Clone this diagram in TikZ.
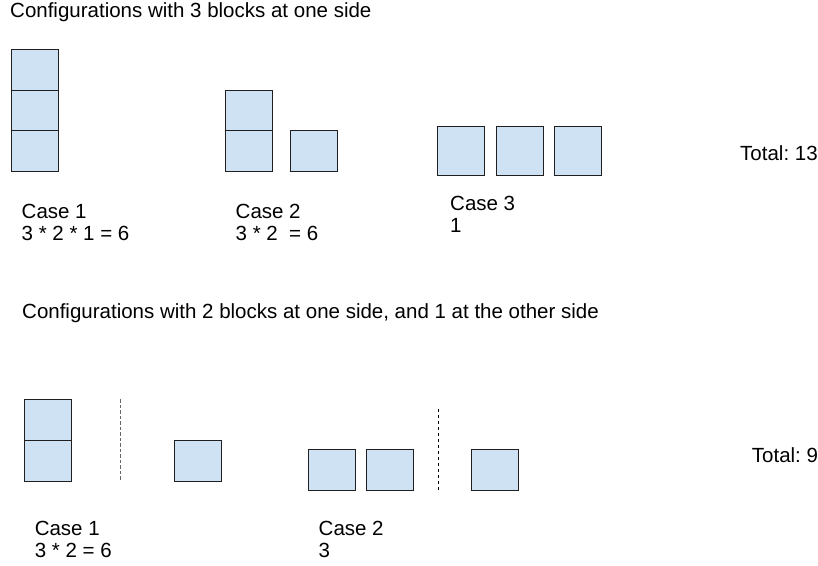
\documentclass[tikz,border=0pt]{standalone}
\usepackage{fontspec}
\setmainfont{Liberation Sans}
\frenchspacing
\definecolor{blockblue}{HTML}{CFE2F3}
\definecolor{edgegray}{HTML}{1F1F1F}
\definecolor{dashgray}{HTML}{666666}
\begin{document}
\begin{tikzpicture}[x=1pt,y=-1pt,
  block/.style={draw=edgegray,fill=blockblue,line width=1pt,inner sep=0pt,minimum width=47pt,minimum height=40.5pt},
  tallblock/.style={block,minimum height=49.7pt},
  midblock/.style={block,minimum height=41pt},
  lbl/.style={anchor=base west,inner sep=0pt,font=\fontsize{20.5}{22}\selectfont},
  sep/.style={line width=1pt,dash pattern=on 3.5pt off 2.5pt}]
\useasboundingbox (0,0) rectangle (818,565);
% ---- top section ----
\node[lbl] (title1) at (10,17) {Configurations with 3 blocks at one side};
\node[block] (s1a) at (35.2,70) {};
\node[block] (s1b) at (35.2,110.5) {};
\node[block] (s1c) at (35.2,151) {};
\node[block] (s2a) at (248.7,110.5) {};
\node[block] (s2b) at (248.7,151) {};
\node[block] (s2c) at (314.3,151) {};
\node[tallblock] (s3a) at (461.2,150.9) {};
\node[tallblock] (s3b) at (520.2,150.9) {};
\node[tallblock] (s3c) at (577.8,150.9) {};
\node[lbl] (c1t) at (21.5,218.5) {Case 1};
\node[lbl] (c1n) at (21.5,240.5) {3 * 2 * 1 = 6};
\node[lbl] (c2t) at (235.5,218.5) {Case 2};
\node[lbl] (c2n) at (235.5,240.5) {3 * 2\ \ = 6};
\node[lbl] (c3t) at (450,210) {Case 3};
\node[lbl] (c3n) at (450,232) {1};
\node[lbl] (tot1) at (740,160) {Total: 13};
% ---- bottom section ----
\node[lbl] (title2) at (22,318) {Configurations with 2 blocks at one side, and 1 at the other side};
\node[midblock] (b1a) at (47.9,419.5) {};
\node[midblock] (b1b) at (47.9,460.5) {};
\coordinate (d1t) at (120.7,399);
\coordinate (d1b) at (120.7,481);
\draw[sep,draw=dashgray,line width=1.3pt,dash pattern=on 3.5pt off 2pt] (d1t) -- (d1b);
\node[midblock] (b1c) at (198,460.5) {};
\node[midblock] (b2a) at (331.6,469.5) {};
\node[midblock] (b2b) at (389.8,469.5) {};
\coordinate (d2t) at (438.2,408.7);
\coordinate (d2b) at (438.2,490);
\draw[sep,draw=black] (d2t) -- (d2b);
\node[midblock] (b2c) at (494.6,469.5) {};
\node[lbl] (e1t) at (34.6,535) {Case 1};
\node[lbl] (e1n) at (34.6,557) {3 * 2 = 6};
\node[lbl] (e2t) at (318.5,535) {Case 2};
\node[lbl] (e2n) at (318.5,557) {3};
\node[lbl] (tot2) at (751.7,462) {Total: 9};
\end{tikzpicture}
\end{document}
